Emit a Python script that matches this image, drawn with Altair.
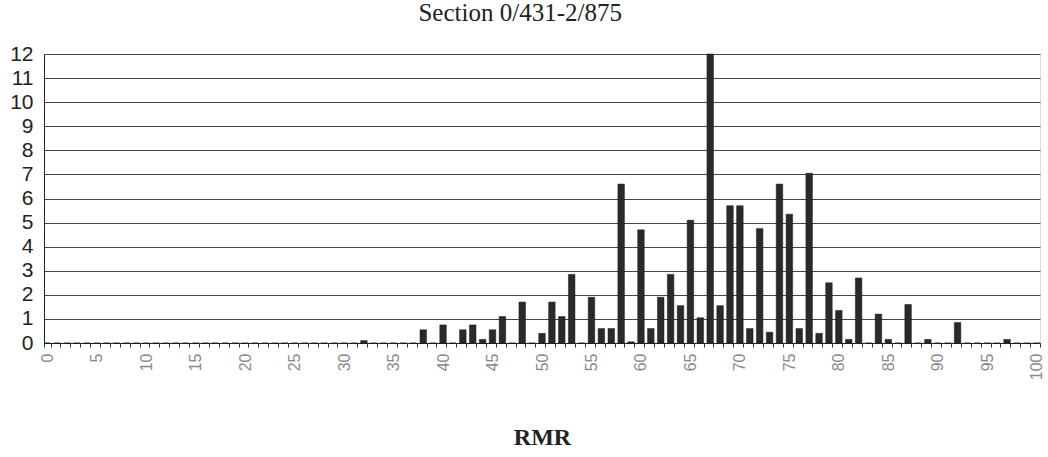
import altair as alt
import pandas as pd

# RMR classes that have a non-zero frequency, and their frequencies
rmr_values = [32, 38, 40, 42, 43, 44, 45, 46, 48, 50, 51, 52, 53, 55, 56, 57,
              58, 59, 60, 61, 62, 63, 64, 65, 66, 67, 68, 69, 70, 71, 72, 73,
              74, 75, 76, 77, 78, 79, 80, 81, 82, 84, 85, 87, 89, 92, 97]
frequencies = [0.1, 0.55, 0.75, 0.55, 0.75, 0.15, 0.55, 1.1, 1.7, 0.4, 1.7,
               1.1, 2.85, 1.9, 0.6, 0.6, 6.6, 0.05, 4.7, 0.6, 1.9, 2.85, 1.55,
               5.1, 1.05, 12, 1.55, 5.7, 5.7, 0.6, 4.75, 0.45, 6.6, 5.35, 0.6,
               7.05, 0.4, 2.5, 1.35, 0.15, 2.7, 1.2, 0.15, 1.6, 0.15, 0.85, 0.15]

# full category axis 0..100
rmr_classes = list(range(0, 101))
y_ticks = list(range(0, 13))

lookup = dict(zip(rmr_values, frequencies))
df = pd.DataFrame({
    "RMR": rmr_classes,
    "freq": [lookup.get(v, 0) for v in rmr_classes],
})

bars = alt.Chart(df).mark_bar(color="#2a2a2a", stroke="#1a1a1a", strokeWidth=0.5).encode(
    x=alt.X(
        "RMR:O",
        sort=rmr_classes,
        scale=alt.Scale(domain=rmr_classes, paddingInner=0.34, paddingOuter=0.0),
        axis=alt.Axis(
            title="RMR",
            titleFont="Liberation Serif",
            titleFontSize=24,
            titleFontWeight="bold",
            titleColor="#222",
            titlePadding=46,
            labelAngle=270,
            labelAlign="right",
            labelBaseline="middle",
            labelFont="Liberation Sans",
            labelFontSize=16,
            labelColor="#8a8a8a",
            labelPadding=6,
            labelExpr="datum.value % 5 == 0 ? datum.label : ''",
            labelOverlap=False,
            tickBand="extent",
            tickSize=4,
            tickColor="#333",
            domainColor="#222",
            grid=False,
        ),
    ),
    y=alt.Y(
        "freq:Q",
        scale=alt.Scale(domain=[0, 12], nice=False),
        axis=alt.Axis(
            title=None,
            values=y_ticks,
            labelFont="Liberation Sans",
            labelFontSize=21,
            labelColor="#222",
            labelPadding=11,
            ticks=False,
            domainColor="#222",
            grid=True,
            gridColor="#444",
            gridWidth=1,
        ),
    ),
)

chart = bars.properties(
    width=996,
    height=289,
    autosize=alt.AutoSizeParams(type="none"),
    padding={"left": 44, "top": 54, "right": 8, "bottom": 114},
    title=alt.TitleParams(
        "Section 0/431-2/875",
        font="Liberation Serif",
        fontSize=25,
        fontWeight="normal",
        color="#222",
        anchor="middle",
        frame="bounds",
        offset=17,
        dx=-7,
    ),
).configure_view(stroke=None).configure(background="white")

chart.save("out.html", embed_options={"renderer": "svg", "actions": False})
